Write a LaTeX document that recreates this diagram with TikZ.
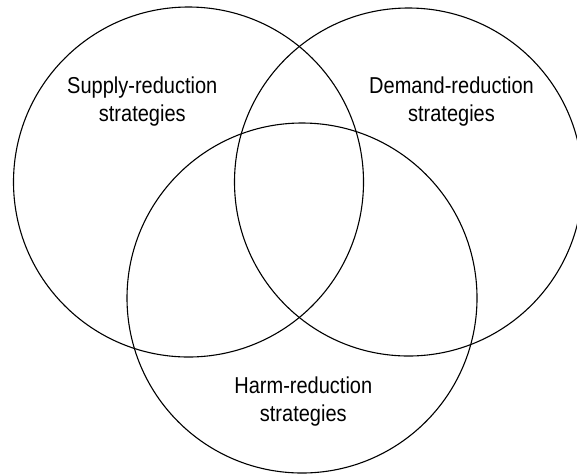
\documentclass[tikz,border=0pt]{standalone}
\usepackage{fontspec}
\setmainfont{Liberation Sans}[FakeStretch=0.87]
\begin{document}
\begin{tikzpicture}[x=1pt,y=-1pt,
  setring/.style={draw=black, line width=1.1pt},
  setlabel/.style={align=center, font=\fontsize{23}{28.4}\selectfont, inner sep=0pt}]
\useasboundingbox (0,0) rectangle (577,475);
% three overlapping strategy sets
\draw[setring] (188.5,182) circle[radius=175] coordinate (supply);
\draw[setring] (408.5,182) circle[radius=174] coordinate (demand);
\draw[setring] (302,298) circle[radius=175] coordinate (harm);
% set labels
\node[setlabel] (supplytext) at (142.3,101.5) {Supply-reduction\\strategies};
\node[setlabel] (demandtext) at (451.5,101.5) {Demand-reduction\\strategies};
\node[setlabel] (harmtext) at (303.3,401.5) {Harm-reduction\\strategies};
\end{tikzpicture}
\end{document}
